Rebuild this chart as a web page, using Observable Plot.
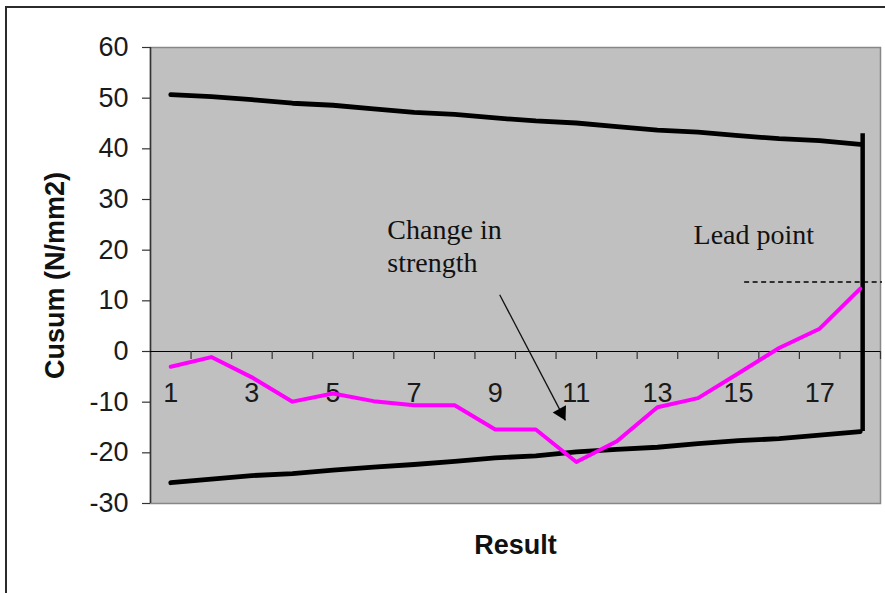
<!DOCTYPE html>
<html><head><meta charset="utf-8">
<script src="https://cdn.jsdelivr.net/npm/d3@7"></script>
<script src="https://cdn.jsdelivr.net/npm/@observablehq/plot@0.6"></script>
<style>
html,body{margin:0;padding:0;background:#fff;overflow:hidden;}
#wrap{position:relative;width:885px;height:593px;overflow:hidden;}
#border{position:absolute;left:5px;top:6px;width:1000px;height:1000px;border-left:2px solid #2b2b2b;border-top:2px solid #2b2b2b;}
#chart{position:absolute;left:0;top:0;}
</style></head><body>
<div id="wrap"><div id="border"></div><div id="chart"></div></div>
<script>
// Data
const results = [1, 2, 3, 4, 5, 6, 7, 8, 9, 10, 11, 12, 13, 14, 15, 16, 17, 18];
const cusum = [-3.0, -1.1, -5.1, -9.9, -8.3, -9.8, -10.6, -10.6, -15.4, -15.4, -21.8, -17.7, -11.0, -9.2, -4.3, 0.7, 4.5, 12.4];
const upperLimit = [50.7, 50.3, 49.7, 49.0, 48.6, 47.9, 47.2, 46.8, 46.1, 45.5, 45.1, 44.4, 43.7, 43.3, 42.6, 42.0, 41.6, 40.9];
const lowerLimit = [-25.9, -25.2, -24.5, -24.1, -23.4, -22.8, -22.3, -21.7, -21.0, -20.6, -19.8, -19.3, -18.9, -18.2, -17.6, -17.2, -16.5, -15.8];
const yTicks = [-30, -20, -10, 0, 10, 20, 30, 40, 50, 60];
const xLabels = [1, 3, 5, 7, 9, 11, 13, 15, 17];
const xTickMarks = results.map(d => d + 0.5);
const leadPointValue = 13.7;
const maskTop = 43;

const table = results.map((r, i) => ({result: r, cusum: cusum[i], upper: upperLimit[i], lower: lowerLimit[i]}));
const last = table[table.length - 1];

const sans = "'Liberation Sans', Arial, Helvetica, sans-serif";
const serif = "'Liberation Serif', 'Times New Roman', serif";

const plot = Plot.plot({
  width: 885,
  height: 593,
  marginLeft: 150,
  marginRight: 5,
  marginTop: 47,
  marginBottom: 90,
  style: {fontFamily: sans, background: "transparent", color: "#1a1a1a", overflow: "visible"},
  x: {type: "linear", domain: [0.5, 18.5], axis: null},
  y: {type: "linear", domain: [-30, 60], axis: null},
  marks: [
    Plot.frame({fill: "#c0c0c0", stroke: "#878787", strokeWidth: 1.5}),
    Plot.axisY({ticks: yTicks, tickFormat: d => String(d), tickSize: 8, tickPadding: 14, fontSize: 27, stroke: "#333", strokeWidth: 1.2, label: null, fill: "#1a1a1a"}),
    Plot.ruleX([0.5], {stroke: "#333", strokeWidth: 1.5}),
    Plot.ruleY([0], {stroke: "#000", strokeWidth: 1.2}),
    Plot.ruleX(xTickMarks, {x: d => d, y1: 0, y2: 0, insetTop: 8, stroke: "#333", strokeWidth: 1.2}),
    Plot.text(xLabels, {x: d => d, y: 0, dy: 42, text: d => String(d), fontSize: 27, fill: "#1a1a1a"}),
    Plot.lineY(table, {x: "result", y: "upper", stroke: "#000", strokeWidth: 4.8}),
    Plot.lineY(table, {x: "result", y: "lower", stroke: "#000", strokeWidth: 4.8}),
    Plot.ruleX([last], {x: d => d.result + 0.06, y1: d => d.lower, y2: () => maskTop, stroke: "#000", strokeWidth: 4.5}),
    Plot.ruleY([leadPointValue], {x1: 15.15, x2: 18.55, stroke: "#000", strokeWidth: 1.5, strokeDasharray: "5,3.5"}),
    Plot.lineY(table, {x: "result", y: "cusum", stroke: "#ff00ff", strokeWidth: 4}),
    Plot.link([{x1: 9.11, y1: 11.2, x2: 10.73, y2: -13.6}], {x1: "x1", y1: "y1", x2: "x2", y2: "y2", stroke: "#111", strokeWidth: 1.3}),
    Plot.dot([{x: 10.73, y: -13.6}], {x: "x", y: "y", symbol: "triangle", r: 5.6, fill: "#000", stroke: "none", rotate: 152, dx: -4, dy: -7.7}),
    Plot.text(["Change in\nstrength"], {x: 6.34, y: 26.9, text: d => d, textAnchor: "start", lineAnchor: "top", lineHeight: 1.18, fontSize: 28, fontFamily: serif, fill: "#111"}),
    Plot.text(["Lead point"], {x: 13.89, y: 25.1, text: d => d, textAnchor: "start", lineAnchor: "top", fontSize: 28, fontFamily: serif, fill: "#111"}),
    Plot.text(["Cusum (N/mm2)"], {frameAnchor: "left", textAnchor: "middle", dx: -95, rotate: -90, text: d => d, fontSize: 27, fontWeight: "bold", fill: "#111"}),
    Plot.text(["Result"], {frameAnchor: "bottom", dy: 50, text: d => d, fontSize: 27, fontWeight: "bold", fill: "#111"})
  ]
});
document.getElementById("chart").appendChild(plot);
</script>
</body></html>
